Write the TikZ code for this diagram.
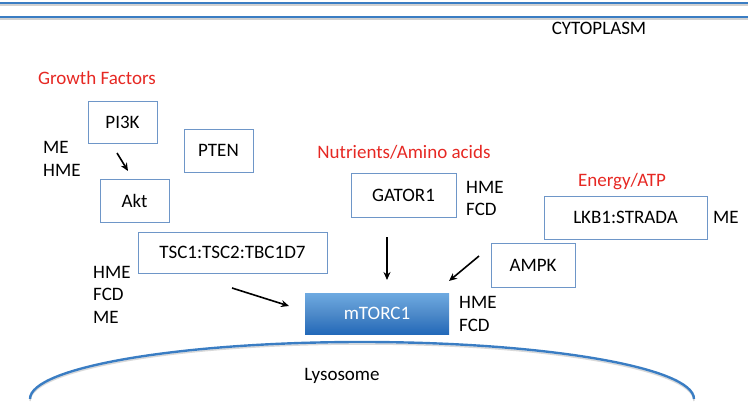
\documentclass[tikz,border=0pt]{standalone}
\usepackage{fontspec}
\setmainfont{Carlito}
\usetikzlibrary{arrows.meta}
\definecolor{memblue}{RGB}{58,125,195}
\definecolor{boxline}{RGB}{110,150,200}
\definecolor{labred}{RGB}{230,40,35}
\definecolor{mtop}{RGB}{110,170,225}
\definecolor{mbot}{RGB}{35,105,185}
\tikzset{
  box/.style={draw=boxline, line width=0.8pt, fill=white, inner sep=0pt, font=\fontsize{19}{22}\selectfont},
  lab/.style={font=\fontsize{19}{22.5}\selectfont, inner sep=0pt, align=left, anchor=west},
  redlab/.style={font=\fontsize{19}{22}\selectfont, text=labred, inner sep=0pt},
  arr/.style={line width=1.6pt, -{Stealth[length=8pt,width=7pt]}},
  memb/.style={draw=memblue, line width=2.4pt},
  shad/.style={draw=black!18, line width=1.5pt}
}
\begin{document}
\begin{tikzpicture}[x=1pt,y=-1pt]
\useasboundingbox (0,0) rectangle (748,402);
% membranes
\draw[shad] (0,5) -- (748,5);
\draw[shad] (0,19) -- (748,19);
\draw[memb] (0,3) -- (748,3);
\draw[memb] (0,17) -- (748,17);
\node[font=\fontsize{19}{22}\selectfont, inner sep=0pt] (cyto) at (599,28) {CYTOPLASM};
% lysosome
\draw[black!15, line width=1.5pt] (30,401) arc[start angle=180, end angle=360, x radius=332, y radius=57];
\draw[memb] (30,399) arc[start angle=180, end angle=360, x radius=332, y radius=57];
\node[font=\fontsize{19}{22}\selectfont, inner sep=0pt] (lyso) at (342,376) {Lysosome};
% red headings
\node[redlab] (gf) at (97,78) {Growth Factors};
\node[redlab] (nut) at (404,152) {Nutrients/Amino acids};
\node[redlab] (en) at (622,182) {Energy/ATP};
% boxes
\node[box, minimum width=69pt, minimum height=42pt] (pi3k) at (122.5,122) {PI3K};
\node[box, minimum width=69pt, minimum height=43pt] (pten) at (218.5,150.5) {PTEN};
\node[box, minimum width=69pt, minimum height=43pt] (akt) at (134.5,200.5) {Akt};
\node[box, minimum width=189pt, minimum height=41pt] (tsc) at (232.5,252.5) {TSC1:TSC2:TBC1D7};
\node[box, minimum width=105pt, minimum height=44pt] (gator) at (403.5,195) {GATOR1};
\node[box, minimum width=163pt, minimum height=43pt] (lkb) at (625.5,217.5) {LKB1:STRADA};
\node[box, minimum width=84pt, minimum height=44pt] (ampk) at (533,265) {AMPK};
\node[inner sep=0pt, minimum width=144pt, minimum height=41pt, top color=mtop, bottom color=mbot, middle color=memblue!90, text=white, font=\fontsize{19}{22}\selectfont] (mtor) at (377,313.5) {mTORC1};
% side labels
\node[lab] (l1) at (43,159) {ME\\HME};
\node[lab] (l2) at (93,294.5) {HME\\FCD\\ME};
\node[lab] (l3) at (466,198.5) {HME\\FCD};
\node[lab] (l4) at (713,217) {ME};
\node[lab] (l5) at (459,314) {HME\\FCD};
% arrows
\coordinate (a1s) at (117,153); \coordinate (a1e) at (128,171);
\coordinate (a2s) at (232,288); \coordinate (a2e) at (289,306);
\coordinate (a3s) at (387,237); \coordinate (a3e) at (387,280);
\coordinate (a4s) at (479,256); \coordinate (a4e) at (449,281);
\draw[arr] (a1s) -- (a1e);
\draw[arr] (a2s) -- (a2e);
\draw[arr] (a3s) -- (a3e);
\draw[arr] (a4s) -- (a4e);
\end{tikzpicture}
\end{document}
